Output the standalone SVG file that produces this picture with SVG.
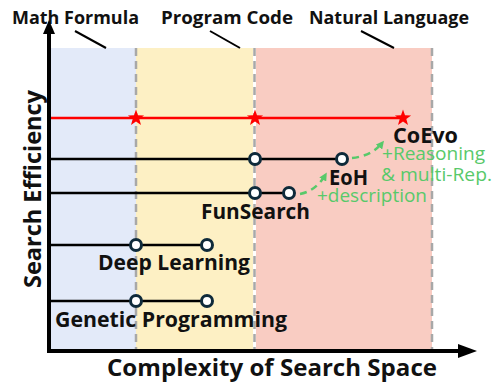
<svg xmlns="http://www.w3.org/2000/svg" width="493" height="383" viewBox="0 0 493 383">
  <defs>
    <style>
      .lbl { font-family: "Open Sans", "Noto Sans", "Liberation Sans", sans-serif; font-weight: 700; fill: #111; }
      .note { font-family: "Open Sans", "Noto Sans", "Liberation Sans", sans-serif; font-weight: 400; fill: #58C96A; }
      .axis { stroke: #000; stroke-width: 4; fill: none; }
      .div { stroke: #A8A8A8; stroke-width: 2.5; stroke-dasharray: 8 5; }
      .track { stroke: #000; stroke-width: 2.5; }
      .pt { fill: #fff; stroke: #0E2A3A; stroke-width: 3; }
      .lead { stroke: #000; stroke-width: 2; }
      .green { stroke: #58C96A; stroke-width: 2.5; fill: none; stroke-dasharray: 7 5; }
    </style>
    <marker id="gh" viewBox="0 0 10 10" refX="8" refY="5" markerWidth="8" markerHeight="8" markerUnits="userSpaceOnUse" orient="auto">
      <path d="M0,0 L10,5 L0,10 z" fill="#58C96A"/>
    </marker>
    <path id="star" d="M0,-8.5 L2,-2.8 8.1,-2.6 3.3,1.1 5,7 0,3.5 -5,7 -3.3,1.1 -8.1,-2.6 -2,-2.8 Z" fill="#F00"/>
  </defs>

  <!-- search-space bands -->
  <g id="bands">
    <rect x="50" y="48" width="86" height="302" fill="#E3EAF9"/>
    <rect x="136" y="48" width="117" height="302" fill="#FDF0C4"/>
    <rect x="256" y="48" width="176" height="302" fill="#F9CCC2"/>
  </g>
  <g id="dividers">
    <line class="div" x1="136" y1="48" x2="136" y2="350"/>
    <line class="div" x1="254.5" y1="48" x2="254.5" y2="350"/>
    <line class="div" x1="432" y1="48" x2="432" y2="350"/>
  </g>

  <!-- band titles -->
  <g id="band-titles">
    <text class="lbl" x="12" y="24" font-size="18.5" textLength="127" lengthAdjust="spacingAndGlyphs">Math Formula</text>
    <text class="lbl" x="161" y="24" font-size="18.5" textLength="132" lengthAdjust="spacingAndGlyphs">Program Code</text>
    <text class="lbl" x="309" y="24" font-size="18.5" textLength="160" lengthAdjust="spacingAndGlyphs">Natural Language</text>
    <line class="lead" x1="75" y1="31" x2="106" y2="48"/>
    <line class="lead" x1="210" y1="31" x2="240" y2="48"/>
    <line class="lead" x1="361" y1="31" x2="394" y2="48"/>
  </g>

  <!-- method tracks -->
  <g id="connectors">
    <line x1="50" y1="118" x2="403" y2="118" stroke="#F00" stroke-width="2.5"/>
    <line class="track" x1="50" y1="159" x2="342" y2="159"/>
    <line class="track" x1="50" y1="193" x2="289" y2="193"/>
    <line class="track" x1="50" y1="245" x2="207" y2="245"/>
    <line class="track" x1="50" y1="301" x2="207" y2="301"/>
    <path class="green" d="M300,194 Q316,191 326,174" marker-end="url(#gh)"/>
    <path class="green" d="M352,158 Q372,156 383,142" marker-end="url(#gh)"/>
  </g>

  <g id="coevo">
    <use href="#star" x="136" y="118"/>
    <use href="#star" x="255" y="118"/>
    <use href="#star" x="403" y="118"/>
    <text class="lbl" x="393" y="143" font-size="21" textLength="65" lengthAdjust="spacingAndGlyphs">CoEvo</text>
  </g>
  <g id="eoh">
    <circle class="pt" cx="255" cy="159" r="5.5"/>
    <circle class="pt" cx="342" cy="159" r="5.5"/>
    <text class="lbl" x="329" y="185" font-size="21" textLength="39" lengthAdjust="spacingAndGlyphs">EoH</text>
  </g>
  <g id="funsearch">
    <circle class="pt" cx="255" cy="193" r="5.5"/>
    <circle class="pt" cx="289" cy="193" r="5.5"/>
    <text class="lbl" x="201" y="219" font-size="21" textLength="109" lengthAdjust="spacingAndGlyphs">FunSearch</text>
  </g>
  <g id="deep-learning">
    <circle class="pt" cx="136" cy="245" r="5.5"/>
    <circle class="pt" cx="207" cy="245" r="5.5"/>
    <text class="lbl" x="98" y="270" font-size="21" textLength="152" lengthAdjust="spacingAndGlyphs">Deep Learning</text>
  </g>
  <g id="genetic-programming">
    <circle class="pt" cx="136" cy="301" r="5.5"/>
    <circle class="pt" cx="207" cy="301" r="5.5"/>
    <text class="lbl" x="55" y="327" font-size="21" textLength="232" lengthAdjust="spacingAndGlyphs">Genetic Programming</text>
  </g>

  <g id="notes">
    <text class="note" x="382" y="160" font-size="18.5" textLength="103" lengthAdjust="spacingAndGlyphs">+Reasoning</text>
    <text class="note" x="381" y="181" font-size="18.5" textLength="111" lengthAdjust="spacingAndGlyphs">&amp; multi-Rep.</text>
    <text class="note" x="317" y="202" font-size="18.5" textLength="110" lengthAdjust="spacingAndGlyphs">+description</text>
  </g>

  <!-- axes -->
  <g id="axes">
    <polyline class="axis" points="49,33 49,351 460,351"/>
    <path d="M43,34 L49,20 L55,34 Z" fill="#000"/>
    <path d="M458,344 L477,351 L458,358 Z" fill="#000"/>
    <text class="lbl" x="107" y="376" font-size="23.5" textLength="330" lengthAdjust="spacingAndGlyphs">Complexity of Search Space</text>
    <text class="lbl" transform="translate(41,288) rotate(-90)" font-size="23.5" textLength="198" lengthAdjust="spacingAndGlyphs">Search Efficiency</text>
  </g>
</svg>
